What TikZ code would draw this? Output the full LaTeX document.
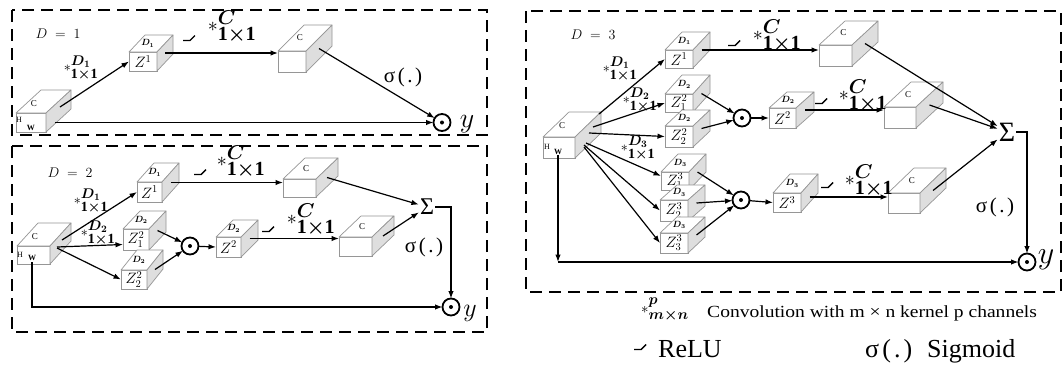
\RequirePackage{fix-cm}
\documentclass[tikz,border=0pt]{standalone}
\usepackage{amsmath}
\usepackage{graphicx}
\usepackage{fontspec}
\setmainfont{Liberation Serif}
\usetikzlibrary{calc,arrows.meta}
\definecolor{edgegray}{RGB}{150,150,150}
\definecolor{sidegray}{RGB}{222,222,222}
\tikzset{
 cubeface/.style={draw=edgegray, fill=white, line width=0.7pt, inner sep=0pt, outer sep=0pt},
 cubeedge/.style={draw=edgegray, line width=0.7pt, line join=round},
 toplab/.style={inner sep=0pt, font=\fontsize{9}{9}\selectfont},
 arr/.style={line width=1.2pt, -{Latex[length=7.5pt,width=5.5pt]}},
 dashbox/.style={line width=2pt, dash pattern=on 12pt off 7pt},
 odot/.style={circle, draw, line width=1.8pt, minimum size=17pt, inner sep=0pt, outer sep=0pt,
   path picture={\fill (path picture bounding box.center) circle (2pt);}},
 convbig/.style={inner sep=0pt, font=\fontsize{20}{20}\selectfont},
 convsmall/.style={inner sep=0pt, font=\fontsize{14}{14}\selectfont},
 siglab/.style={inner sep=0pt, font=\fontsize{21}{21}\selectfont},
 sumlab/.style={inner sep=1pt, font=\fontsize{24}{24}\selectfont},
 dlab/.style={inner sep=0pt, font=\fontsize{14}{14}\selectfont},
 smalllab/.style={inner sep=0pt, font=\fontsize{8}{8}\selectfont},
 relu/.pic={\draw[line width=1.4pt, line join=round] (-6,2.5) -- (1,2.5) -- (6,-2.5);},
}
\newcommand\cub[9]{%
  \node[cubeface, minimum width=#4pt, minimum height=#5pt, anchor=north west] (#1) at (#2,#3) {\fontsize{15}{15}\selectfont #8};
  \draw[cubeedge, fill=white] (#1.north west) -- ++(#6,-#7) -- ++(#4,0) -- (#1.north east) -- cycle;
  \draw[cubeedge, fill=sidegray] (#1.north east) -- ++(#6,-#7) -- ++(0,#5) -- (#1.south east) -- cycle;
  \coordinate (#1r) at ($(#1.east)+(#6/2,-#7/2)$);
  \node[toplab] (#1t) at ($(#1.north)+(0.3*#6,-#7/2)$) {#9};
}
\newcommand\convC{$\ast^{\textstyle\boldsymbol{C}}_{\textstyle\mathbf{1}{\boldsymbol{\times}}\mathbf{1}}$}
\newcommand\convD[1]{$\ast^{\textstyle\boldsymbol{D_{#1}}}_{\textstyle\mathbf{1}{\boldsymbol{\times}}\mathbf{1}}$}
\newcommand\sigtxt{σ\kern.12em(\kern.12em.\kern.12em)}
\begin{document}
\begin{tikzpicture}[x=1pt,y=-1pt]
\useasboundingbox (0,0) rectangle (1064,365);
\fill[white] (0,0) rectangle (1064,365);
% dashed panels
\draw[dashbox] (12,10) rectangle (487,135);
\draw[dashbox] (12,146) rectangle (487,332);
\draw[dashbox] (526,11) rectangle (1061,292);

% ===== Panel 1 =====
\cub{in1}{16}{113}{30}{19}{25}{23}{}{}
\node[inner sep=0pt, font=\fontsize{9}{9}\selectfont] (in1c) at (34,104) {C};
\node[smalllab] (in1h) at (19,120) {H};
\node[smalllab, font=\fontsize{8}{8}\selectfont\bfseries] (in1w) at (31,128) {W};
\cub{a1}{129}{52}{28}{19}{16}{17}{$Z^1$}{$\boldsymbol{D_1}$}
\cub{c1}{278}{51}{28}{21}{26}{26}{}{C}
\node[odot] (o1) at (442,122.5) {};
\draw[arr] ($(in1.north east)+(14,-6)$) -- (a1.west);
\draw[arr] (a1r) -- (a1r -| c1.west);
\draw[arr] (c1r) -- (o1);
\draw[arr] ($(in1.east)+(9,0)$) -- (o1.west);
\node[dlab] (d1) at (58,34) {$D\;=\;1$};
\node[convsmall] (l1a) at (81,68) {\convD{1}};
\pic (r1) at (189,38) {relu};
\node[convbig] (l1b) at (232,27) {\convC};
\node[siglab] (g1) at (403,77) {\sigtxt};
\node[inner sep=0pt, font=\fontsize{28}{28}\selectfont] (y1) at (467,124) {$y$};

% ===== Panel 2 =====
\cub{in2}{17}{246}{33}{18}{21}{23}{}{}
\node[inner sep=0pt, font=\fontsize{9}{9}\selectfont] (in2c) at (35,237) {C};
\node[smalllab] (in2h) at (20,255) {H};
\node[smalllab, font=\fontsize{8}{8}\selectfont\bfseries] (in2w) at (32,258) {W};
\cub{b1}{137}{182}{25}{20}{17}{19}{$Z^1$}{$\boldsymbol{D_1}$}
\cub{b21}{123}{229}{26}{21}{17}{18}{$Z^2_1$}{$\boldsymbol{D_2}$}
\cub{b22}{121}{270}{26}{19}{16}{20}{$Z^2_2$}{$\boldsymbol{D_2}$}
\cub{b2}{216}{237}{25}{20}{17}{17}{$Z^2$}{$\boldsymbol{D_2}$}
\cub{bc1}{283}{179}{33}{18}{22}{21}{}{C}
\cub{bc2}{339}{237}{33}{19}{22}{21}{}{C}
\node[odot] (ob) at (190,246) {};
\node[odot] (o2) at (451,307) {};
\node[sumlab] (s2) at (427,207) {Σ};
\draw[arr] ($(in2.north east)+(12,-6)$) -- (b1.west);
\draw[arr] ($(in2.north east)+(7,1)$) -- ([yshift=-5pt]b21.west);
\draw[arr] ($(in2.north east)+(7,2)$) -- (b22.west);
\draw[arr] (b21r) -- (ob);
\draw[arr] (b22r) -- (ob);
\draw[arr] (ob) -- (b2.west);
\draw[arr] (b1r) -- (b1r -| bc1.west);
\draw[arr] (b2r) -- (b2r -| bc2.west);
\draw[arr] (bc1r) -- (s2);
\draw[arr] (bc2r) -- (s2);
\draw[arr] (s2.east) -| (o2.north);
\draw[arr] ($(in2.south west)+(15,-2)$) |- (o2.west);
\node[dlab] (d2) at (70,173) {$D\;=\;2$};
\node[convsmall] (l2a) at (91,201) {\convD{1}};
\node[convsmall] (l2b) at (98,233) {\convD{2}};
\pic (r2a) at (200,172) {relu};
\node[convbig] (l2c) at (241,162) {\convC};
\pic (r2b) at (268,229) {relu};
\node[convbig] (l2d) at (311,220) {\convC};
\node[siglab] (g2) at (424,247) {\sigtxt};
\node[inner sep=0pt, font=\fontsize{26}{26}\selectfont] (y2) at (470,313) {$y$};

% ===== Panel 3 =====
\cub{in3}{543}{137}{32}{21}{26}{25}{}{}
\node[inner sep=0pt, font=\fontsize{9}{9}\selectfont] (in3c) at (562,126) {C};
\node[smalllab] (in3h) at (547,147) {H};
\node[smalllab, font=\fontsize{8}{8}\selectfont\bfseries] (in3w) at (558,152) {W};
\cub{p1}{665}{50}{28}{18}{17}{18}{$Z^1$}{$\boldsymbol{D_1}$}
\cub{p21}{665}{94}{28}{18}{17}{19}{$Z^2_1$}{$\boldsymbol{D_2}$}
\cub{p22}{665}{126}{28}{21}{17}{16}{$Z^2_2$}{$\boldsymbol{D_2}$}
\cub{p31}{661}{172}{28}{18}{17}{18}{$Z^3_1$}{$\boldsymbol{D_3}$}
\cub{p32}{660}{200}{28}{21}{17}{15}{$Z^3_2$}{$\boldsymbol{D_3}$}
\cub{p33}{660}{233}{28}{20}{17}{16}{$Z^3_3$}{$\boldsymbol{D_3}$}
\cub{p2}{769}{108}{27}{20}{18}{16}{$Z^2$}{$\boldsymbol{D_2}$}
\cub{p3}{773}{193}{28}{19}{17}{19}{$Z^3$}{$\boldsymbol{D_3}$}
\cub{pc1}{819}{45}{33}{21}{26}{24}{}{C}
\cub{pc2}{884}{107}{32}{21}{27}{25}{}{C}
\cub{pc3}{888}{193}{32}{20}{26}{25}{}{C}
\node[odot] (po2) at (742,118) {};
\node[odot] (po3) at (741,200) {};
\node[odot] (po) at (1027,262) {};
\node[sumlab, font=\fontsize{28}{28}\selectfont] (s3) at (1007,132) {Σ};
\coordinate (k3) at (558,262);
\draw[arr] ($(in3.north east)+(24,-23)$) -- (p1.west);
\draw[arr] ($(in3.north east)+(18,-10)$) -- (p21.west);
\draw[arr] ($(in3.north east)+(14,-4)$) -- (p22.west);
\draw[arr] ($(in3.north east)+(11,6)$) -- ([yshift=5pt]p31.west);
\draw[arr] ($(in3.north east)+(9,8)$) -- (p32.west);
\draw[arr] ($(in3.north east)+(9,10)$) -- (p33.west);
\draw[arr] (p21r) -- (po2);
\draw[arr] (p22r) -- (po2);
\draw[arr] (po2) -- (p2.west);
\draw[arr] (p31r) -- (po3);
\draw[arr] (p32r) -- (po3);
\draw[arr] (p33r) -- (po3);
\draw[arr] (po3) -- (p3.west);
\draw[arr] (p1r) -- (p1r -| pc1.west);
\draw[arr] (p2r) -- (p2r -| pc2.west);
\coordinate (p3o) at ($(p3r)+(0,4)$);
\draw[arr] (p3o) -- (p3o -| pc3.west);
\draw[arr] (pc1r) -- (s3);
\draw[arr] (pc2r) -- (s3);
\draw[arr] (pc3r) -- (s3);
\draw[arr] (s3.east) -| (po.north);
\draw[arr] ($(in3.south west)+(15,-3)$) -- (k3);
\draw[arr] (k3) -- (po.west);
\node[dlab] (d3) at (593,35) {$D\;=\;3$};
\node[convsmall] (l3a) at (620,69) {\convD{1}};
\node[convsmall] (l3b) at (640,100) {\convD{2}};
\node[convsmall] (l3c) at (638,148) {\convD{3}};
\pic (r3a) at (734,43) {relu};
\node[convbig] (l3d) at (777,36) {\convC};
\pic (r3b) at (821,101) {relu};
\node[convbig] (l3e) at (863,96) {\convC};
\pic (r3c) at (827,185) {relu};
\node[convbig] (l3f) at (869,181) {\convC};
\node[siglab] (g3) at (995,207) {\sigtxt};
\node[inner sep=0pt, font=\fontsize{32}{32}\selectfont] (y3) at (1046,260) {$y$};

% ===== Legend =====
\node[inner sep=0pt, font=\fontsize{15}{15}\selectfont] (lg1) at (665,310) {$\ast^{\textstyle\boldsymbol{p}}_{\textstyle\boldsymbol{m}{\boldsymbol{\times}}\boldsymbol{n}}$};
\node[anchor=base west, inner sep=0pt, font=\fontsize{17}{17}\selectfont] (lg2) at (707,317) {\scalebox{1.15}[1]{Convolution with m × n kernel p channels}};
\pic (lg3) at (640,347) {relu};
\node[anchor=base west, inner sep=0pt, font=\fontsize{26}{26}\selectfont] (lg4) at (658,357) {ReLU};
\node[anchor=base west, inner sep=0pt, font=\fontsize{26}{26}\selectfont] (lg5) at (865,357) {\sigtxt};
\node[anchor=base west, inner sep=0pt, font=\fontsize{26}{26}\selectfont] (lg6) at (927,357) {Sigmoid};
\end{tikzpicture}
\end{document}
